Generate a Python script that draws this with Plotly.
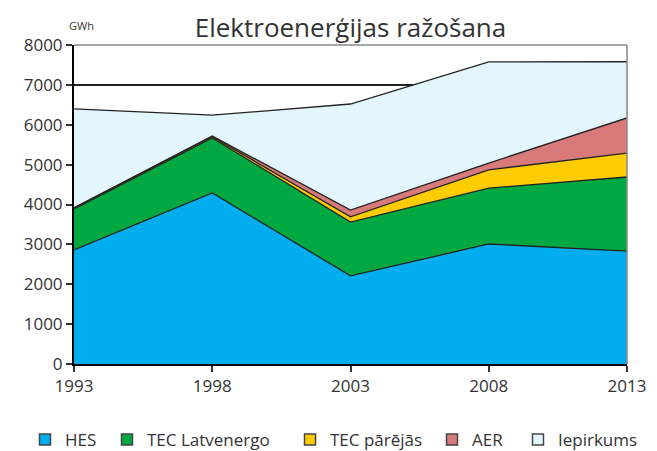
import plotly.graph_objects as go

# === Dati (GWh) ===
years = [1993, 1998, 2003, 2008, 2013]
hes = [2860, 4290, 2210, 3010, 2830]
tec_latvenergo = [1030, 1380, 1350, 1400, 1860]
tec_parejas = [20, 30, 130, 460, 600]
aer = [10, 20, 170, 170, 880]
iepirkums = [2480, 520, 2660, 2535, 1410]

series = [
    ("HES", hes, "#00AEEF"),
    ("TEC Latvenergo", tec_latvenergo, "#00A841"),
    ("TEC pārējās", tec_parejas, "#FFCC00"),
    ("AER", aer, "#D87A7A"),
    ("Iepirkums", iepirkums, "#E4F6FD"),
]

# leģendas ikonu centri (px no kreisās malas)
legend_x = [45, 127, 310, 452, 538]

fig = go.Figure()
legends = {}
for i, (name, vals, color) in enumerate(series):
    fig.add_trace(go.Scatter(
        x=years, y=vals, name=name, stackgroup="one", mode="lines",
        line=dict(color="#222", width=1.3),
        fillcolor=color, showlegend=False,
    ))
    # kvadrātveida leģendas ikona, katra savā leģendā
    lg = "legend" if i == 0 else f"legend{i + 1}"
    fig.add_trace(go.Scatter(
        x=[None], y=[None], name=name, mode="markers", legend=lg,
        marker=dict(symbol="square", size=11, color=color,
                    line=dict(color="#444", width=1.5)),
    ))
    legends[lg] = dict(orientation="h", x=(legend_x[i] - 20) / 657, xanchor="left",
                       xref="container", y=11 / 451, yanchor="middle",
                       yref="container", font=dict(size=17),
                       bgcolor="rgba(0,0,0,0)")

fig.update_layout(
    width=657, height=451,
    font=dict(family="Open Sans, sans-serif", color="#333", size=17),
    plot_bgcolor="white", paper_bgcolor="white",
    margin=dict(l=74, r=30, t=45, b=87, autoexpand=False),
    title=dict(text="Elektroenerģijas ražošana", x=0.5, xref="paper",
               y=1 - 28 / 451, yanchor="middle", font=dict(size=26, color="#333")),
    showlegend=True,
    xaxis=dict(range=[1993, 2013], tickvals=years, showgrid=False,
               showline=True, linecolor="black", linewidth=2,
               ticks="outside", ticklen=6, tickcolor="#333", tickwidth=2,
               zeroline=False, automargin=False),
    yaxis=dict(range=[0, 8000], dtick=1000, showgrid=True, gridcolor="#222",
               gridwidth=1.5, showline=True, linecolor="black", linewidth=2,
               ticks="outside", ticklen=6, tickcolor="#333", tickwidth=2,
               zeroline=False, tickformat="d", automargin=False),
    **legends,
)

# GWh vienība un rāmis augšā / labajā pusē
fig.add_annotation(text="GWh", xref="paper", yref="paper", x=-0.012, y=0.063,
                   yanchor="middle", xanchor="left", showarrow=False,
                   font=dict(size=11, color="#333"))
fig.layout.annotations[0].y = 1 + 20 / 319
fig.add_shape(type="line", xref="paper", yref="paper", x0=0, x1=1, y0=1, y1=1,
              line=dict(color="#888", width=1.5))
fig.add_shape(type="line", xref="paper", yref="paper", x0=1, x1=1, y0=0, y1=1,
              line=dict(color="#888", width=1.5))

fig.write_html("out.html", config={"displayModeBar": False},
               post_script="document.body.style.margin='0';")
